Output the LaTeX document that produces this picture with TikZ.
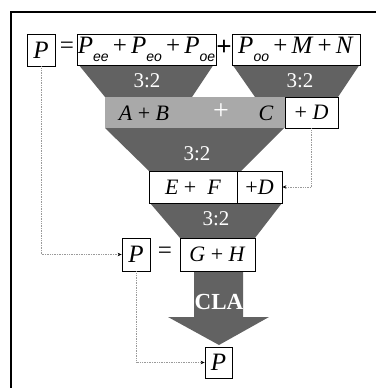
\documentclass[tikz,border=0pt]{standalone}
\usepackage{fontspec}
\setmainfont{Liberation Serif}
\newfontfamily\subfont{Liberation Sans}
\usetikzlibrary{arrows.meta}
\definecolor{darkg}{HTML}{626262}
\definecolor{lightg}{HTML}{A9A9A9}
\definecolor{dotg}{HTML}{9A9A9A}
\newcommand{\vr}[1]{\textit{#1}}
\newcommand{\mysub}[1]{\raisebox{-0.3em}{\fontsize{14}{14}\selectfont\subfont\itshape #1}}
\begin{document}
\begin{tikzpicture}[x=1pt,y=-1pt,
  box/.style={draw=black,line width=0.8pt,fill=white,inner sep=0pt,font=\fontsize{25}{28}\selectfont},
  midtxt/.style={inner sep=0pt,font=\fontsize{22}{24}\selectfont},
  ratio/.style={inner sep=0pt,text=white,font=\fontsize{21}{24}\selectfont},
  trap/.style={fill=darkg},
  conn/.style={draw=dotg,densely dotted,line width=0.7pt,-{Stealth[length=4pt,width=3.5pt,color=black]}}]
\useasboundingbox (0,0) rectangle (376,388);
% frame
\draw[line width=1.4pt] (11,388) -- (11,12) -- (376,12);
% trapezoids
\fill[trap] (78,64) -- (214,64) -- (192,97) -- (105,97) -- cycle;
\fill[trap] (232,64) -- (360,64) -- (338,97) -- (255,97) -- cycle;
\fill[trap] (105,128) -- (284,128) -- (241,171) -- (149,171) -- cycle;
\fill[trap] (150,203) -- (282,203) -- (255,238) -- (180,238) -- cycle;
% gray bar
\fill[lightg] (105,97) rectangle (285,128);
% CLA arrow
\fill[darkg] (194,271) -- (243,271) -- (243,317) -- (269,317) -- (219,345) -- (168,317) -- (194,317) -- cycle;
% top row
\node[box,minimum width=28pt,minimum height=32pt] (P1) at (41,50) {\vr{P}};
\node[inner sep=0pt,font=\fontsize{25}{28}\selectfont] (eq1) at (67,48) {=};
\node[box,minimum width=139pt,minimum height=31pt] (B1) at (146.5,49.5) {\vr{P}\mysub{ee}\,+\,\vr{P}\mysub{eo}\,+\,\vr{P}\mysub{oe}};
\node[inner sep=0pt,font=\bfseries\fontsize{27}{28}\selectfont] (pl1) at (224,48) {+};
\node[box,minimum width=128pt,minimum height=31pt] (B2) at (296,49.5) {\vr{P}\mysub{oo}\,+\,\vr{M}\,+\,\vr{N}};
% ratios
\node[ratio] (r1) at (147,81) {3:2};
\node[ratio] (r2) at (300,81) {3:2};
\node[ratio] (r3) at (197,154) {3:2};
\node[ratio] (r4) at (216,219) {3:2};
% gray bar texts
\node[midtxt] (AB) at (144,113) {\vr{A} + \vr{B}};
\node[inner sep=0pt,text=white,font=\fontsize{28}{30}\selectfont] (pl2) at (221,112) {+};
\node[midtxt] (C) at (266,113) {\vr{C}};
\node[box,midtxt,minimum width=53pt,minimum height=31pt] (D1) at (311.5,112.5) {+ \vr{D}};
% E F row
\node[box,midtxt,minimum width=88pt,minimum height=32pt] (EF) at (193,187) {\vr{E} +\ \ \vr{F}};
\node[box,midtxt,minimum width=45pt,minimum height=32pt] (D2) at (259.5,187) {+\vr{D}};
% G H row
\node[box,minimum width=28pt,minimum height=33pt] (P2) at (136,254.5) {\vr{P}};
\node[inner sep=0pt,font=\fontsize{25}{28}\selectfont] (eq2) at (165,253) {=};
\node[box,midtxt,minimum width=75pt,minimum height=33pt] (GH) at (217.5,254.5) {\vr{G} + \vr{H}};
\node[inner sep=0pt,text=white,font=\bfseries\fontsize{23}{26}\selectfont] (CLA) at (219,302) {CLA};
\node[box,minimum width=27pt,minimum height=31pt] (P3) at (218.5,362.5) {\vr{P}};
% connectors
\draw[conn] (P1.south) |- (P2.west);
\draw[conn] (P2.south) |- (P3.west);
\draw[conn] (D1.south) |- (D2.east);
\end{tikzpicture}
\end{document}
